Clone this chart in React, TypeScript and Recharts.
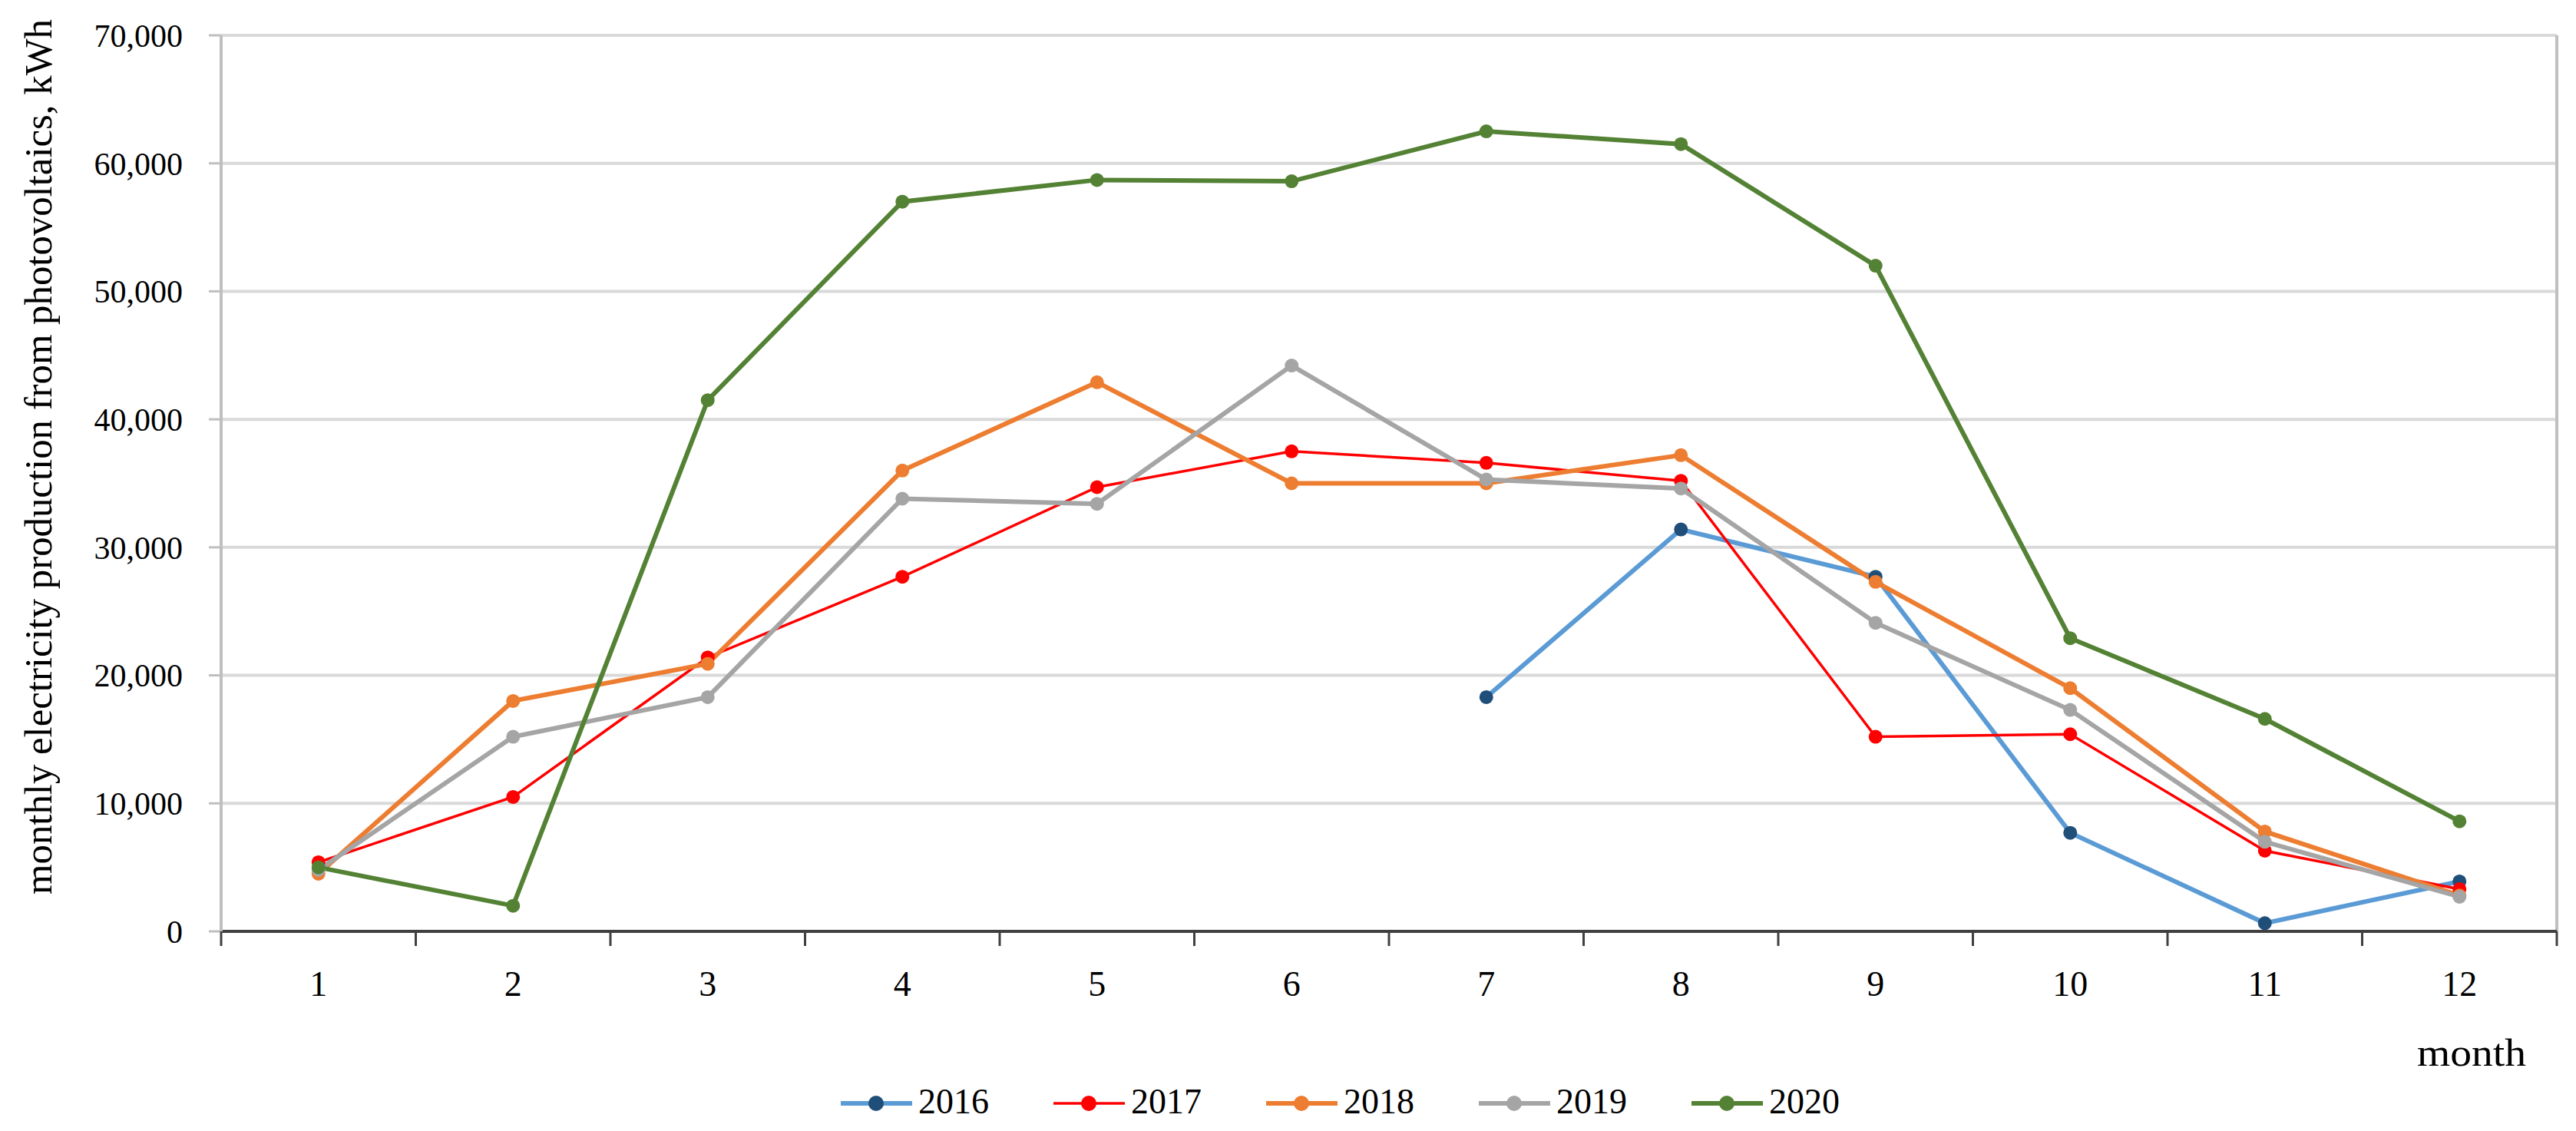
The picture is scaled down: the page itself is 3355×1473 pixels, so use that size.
import React from 'react';
import { LineChart, Line, XAxis, YAxis, CartesianGrid, ReferenceLine } from 'recharts';

const months = [1, 2, 3, 4, 5, 6, 7, 8, 9, 10, 11, 12];
const years = ['2016', '2017', '2018', '2019', '2020'];

const y2016 = [null, null, null, null, null, null, 18300, 31400, 27700, 7700, 640, 3900];
const y2017 = [5400, 10500, 21400, 27700, 34700, 37500, 36600, 35200, 15200, 15400, 6300, 3300];
const y2018 = [4500, 18000, 20900, 36000, 42900, 35000, 35000, 37200, 27300, 19000, 7800, 2800];
const y2019 = [4800, 15200, 18300, 33800, 33400, 44200, 35300, 34600, 24100, 17300, 7000, 2700];
const y2020 = [5000, 2000, 41500, 57000, 58700, 58600, 62500, 61500, 52000, 22900, 16600, 8600];

const yTicks = [0, 10000, 20000, 30000, 40000, 50000, 60000, 70000];

const series = [
  { key: '2016', values: y2016, line: '#5B9BD5', dot: '#1F4E79', width: 6 },
  { key: '2017', values: y2017, line: '#FF0000', dot: '#FF0000', width: 3.5 },
  { key: '2018', values: y2018, line: '#ED7D31', dot: '#ED7D31', width: 6 },
  { key: '2019', values: y2019, line: '#A5A5A5', dot: '#A5A5A5', width: 6 },
  { key: '2020', values: y2020, line: '#548235', dot: '#548235', width: 6 },
];

const data = months.map((m, i) => {
  const row: any = { month: m };
  series.forEach((s) => {
    row[s.key] = s.values[i];
  });
  return row;
});

// ticks at category borders (Excel style) plus labels at the centres
const xTicks = months.flatMap((m) => [m - 0.5, m]).concat(months[months.length - 1] + 0.5);

const FONT = "'Liberation Serif', 'Times New Roman', serif";

function MonthTick(props: any) {
  const { x, y, payload } = props;
  const v = payload.value;
  if (Number.isInteger(v)) {
    return (
      <text x={x} y={y + 84} textAnchor="middle" fontSize={46} fontFamily={FONT} fill="#000">
        {v}
      </text>
    );
  }
  return <line x1={x} x2={x} y1={y} y2={y + 19} stroke="#404040" strokeWidth={3} />;
}

export default function App() {
  return (
    <div style={{ position: 'absolute', left: 0, top: 0, width: 3355, height: 1473, background: '#fff' }}>
      <LineChart width={3355} height={1473} data={data} margin={{ top: 46, right: 25, left: 0, bottom: 0 }}>
        <CartesianGrid horizontal vertical={false} stroke="#d9d9d9" strokeWidth={4} />
        <XAxis
          dataKey="month"
          type="number"
          domain={[0.5, 12.5]}
          ticks={xTicks}
          interval={0}
          height={260}
          tickSize={0}
          tickMargin={0}
          tickLine={false}
          axisLine={{ stroke: '#404040', strokeWidth: 4 }}
          tick={<MonthTick />}
        />
        <YAxis
          width={288}
          domain={[0, 70000]}
          ticks={yTicks}
          interval={0}
          tickSize={16}
          tickMargin={34}
          axisLine={{ stroke: '#bfbfbf', strokeWidth: 4 }}
          tickLine={{ stroke: '#bfbfbf', strokeWidth: 3 }}
          tick={{ fontSize: 42, fontFamily: FONT, fill: '#000' }}
          tickFormatter={(v: number) => v.toLocaleString('en-US')}
        />
        <ReferenceLine x={12.5} stroke="#bfbfbf" strokeWidth={4} />
        {series.map((s) => (
          <Line
            key={s.key}
            dataKey={s.key}
            type="linear"
            stroke={s.line}
            strokeWidth={s.width}
            dot={{ r: 9, fill: s.dot, stroke: s.dot, strokeWidth: 0 }}
            activeDot={false}
            connectNulls={false}
            isAnimationActive={false}
          />
        ))}
      </LineChart>
      <svg
        width={3355}
        height={1473}
        style={{ position: 'absolute', left: 0, top: 0, pointerEvents: 'none' }}
      >
        <text
          transform="translate(67,595) rotate(-90)"
          textAnchor="middle"
          fontSize={50}
          fontFamily={FONT}
          textLength={1140}
          lengthAdjust="spacingAndGlyphs"
          fill="#000"
        >
          monthly electricity production from photovoltaics, kWh
        </text>
        <text x={3148} y={1388} fontSize={50} fontFamily={FONT} textLength={142} lengthAdjust="spacingAndGlyphs" fill="#000">
          month
        </text>
        {series.map((s, i) => {
          const x0 = 1095 + i * 277;
          return (
            <g key={s.key}>
              <line x1={x0} x2={x0 + 93} y1={1437} y2={1437} stroke={s.line} strokeWidth={s.width} />
              <circle cx={x0 + 46} cy={1437} r={10} fill={s.dot} />
              <text x={x0 + 101} y={1450} fontSize={46} fontFamily={FONT} fill="#000">
                {years[i]}
              </text>
            </g>
          );
        })}
      </svg>
    </div>
  );
}
